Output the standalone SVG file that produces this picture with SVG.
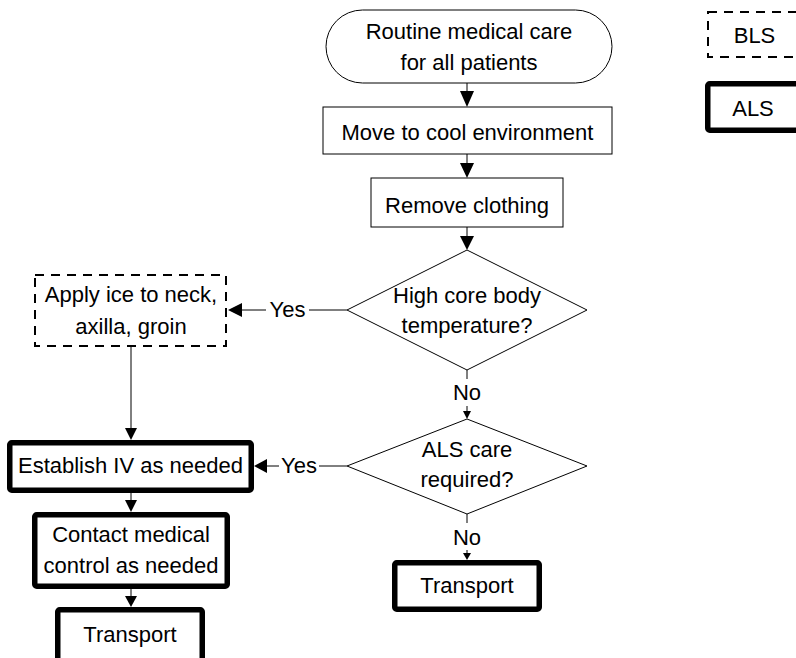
<svg xmlns="http://www.w3.org/2000/svg" width="796" height="658" viewBox="0 0 796 658">
<style>
text{font-family:"Liberation Sans",Arial,sans-serif;font-size:22px;fill:#000;text-anchor:middle}
.thin{fill:#fff;stroke:#000;stroke-width:1}
.thick{fill:#fff;stroke:#000;stroke-width:5.5;stroke-linejoin:round}
.dash{fill:#fff;stroke:#000;stroke-width:2;stroke-dasharray:9 7}
.ln{fill:none;stroke:#000;stroke-width:1}
.ah{fill:#000;stroke:none}
</style>
<rect width="796" height="658" fill="#fff"/>
<g id="connectors">
<line class="ln" x1="467" y1="83" x2="467" y2="92"/><polygon class="ah" points="460,91 474,91 467,107"/>
<line class="ln" x1="467" y1="154" x2="467" y2="164"/><polygon class="ah" points="460,163 474,163 467,178"/>
<line class="ln" x1="467" y1="227" x2="467" y2="237"/><polygon class="ah" points="460,236 474,236 467,250"/>
<line class="ln" x1="467" y1="370" x2="467" y2="379"/><text x="467" y="400">No</text><line class="ln" x1="467" y1="406" x2="467" y2="412"/><polygon class="ah" points="463,411 471,411 467,419"/>
<line class="ln" x1="467" y1="514" x2="467" y2="523"/><text x="467" y="545">No</text><line class="ln" x1="467" y1="550" x2="467" y2="555"/><polygon class="ah" points="463,553 471,553 467,560"/>
<line class="ln" x1="347" y1="310" x2="309" y2="310"/><text x="287.5" y="317">Yes</text><line class="ln" x1="266" y1="310" x2="241" y2="310"/><polygon class="ah" points="242,303 242,317 228,310"/>
<line class="ln" x1="347" y1="466" x2="319" y2="466"/><text x="299" y="473">Yes</text><line class="ln" x1="279" y1="466" x2="266" y2="466"/><polygon class="ah" points="267,459 267,473 254,466"/>
<line class="ln" x1="131" y1="347" x2="131" y2="429"/><polygon class="ah" points="125,428 137,428 131,440"/>
<line class="ln" x1="131" y1="493" x2="131" y2="501"/><polygon class="ah" points="125,500 137,500 131,512"/>
<line class="ln" x1="131" y1="589" x2="131" y2="597"/><polygon class="ah" points="125,596 137,596 131,607"/>
</g>
<g id="start"><rect class="thin" x="326" y="10" width="286" height="73" rx="36.5"/><text x="469" y="39">Routine medical care</text><text x="469" y="70">for all patients</text></g>
<g id="move"><rect class="thin" x="323" y="107" width="289" height="47"/><text x="467.5" y="140">Move to cool environment</text></g>
<g id="remove"><rect class="thin" x="371" y="178" width="192" height="49"/><text x="467" y="213">Remove clothing</text></g>
<g id="dec1"><polygon class="thin" points="347,310 467,250 587,310 467,370"/><text x="467" y="303">High core body</text><text x="467" y="333">temperature?</text></g>
<g id="dec2"><polygon class="thin" points="347,466 467,419 587,466 467,514"/><text x="467" y="457">ALS care</text><text x="467" y="487">required?</text></g>
<g id="transportR"><rect class="thick" x="394.75" y="562.75" width="144.5" height="46.5" rx="2"/><text x="467" y="593">Transport</text></g>
<g id="ice"><rect class="dash" x="35" y="275" width="191" height="71"/><text x="131" y="302">Apply ice to neck,</text><text x="131" y="334">axilla, groin</text></g>
<g id="iv"><rect class="thick" x="9.75" y="442.75" width="241.5" height="47.5" rx="2"/><text x="130.5" y="473">Establish IV as needed</text></g>
<g id="contact"><rect class="thick" x="34.75" y="514.75" width="192.5" height="71.5" rx="2"/><text x="131" y="542">Contact medical</text><text x="131" y="573">control as needed</text></g>
<g id="transportL"><rect class="thick" x="57.75" y="609.75" width="144.5" height="55" rx="2"/><text x="130" y="642">Transport</text></g>
<g id="legendBLS"><rect class="dash" x="708" y="12" width="100" height="45"/><text x="754.5" y="43">BLS</text></g>
<g id="legendALS"><rect class="thick" x="707.75" y="83.75" width="100" height="46.5" rx="2"/><text x="753" y="116">ALS</text></g>
</svg>
